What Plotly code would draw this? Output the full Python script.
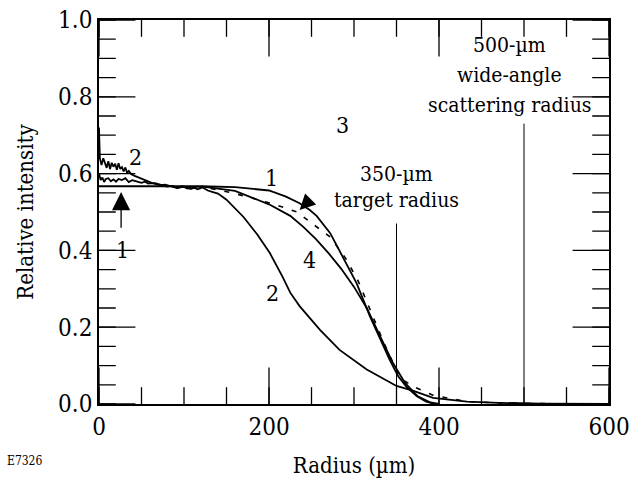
import plotly.graph_objects as go

# ---- data ----
r_curve1 = [0, 60, 120, 160, 200, 220, 236, 248, 256, 272, 287, 303, 319, 331, 342, 352, 362, 374, 385, 395]
i_curve1 = [0.567, 0.567, 0.567, 0.565, 0.556, 0.540, 0.523, 0.505, 0.490, 0.445, 0.383, 0.315, 0.227, 0.167,
            0.115, 0.072, 0.044, 0.020, 0.006, 0.0]

r_curve4 = [120, 160, 200, 225, 240, 255, 270, 285, 300, 315, 330, 345, 360, 375, 390, 400]
i_curve4 = [0.567, 0.555, 0.520, 0.490, 0.462, 0.430, 0.393, 0.352, 0.305, 0.250, 0.180, 0.110, 0.055,
            0.020, 0.004, 0.0]

r_curve2 = [0, 1, 3, 5, 7, 9, 11, 13, 15, 17, 19, 21, 23, 25, 27, 29, 31, 33, 35, 38, 42, 46, 50, 54, 58, 62,
            66, 70, 74, 80, 86, 92, 98, 104, 110, 116, 122, 128, 134, 140, 150, 160, 170, 186, 201, 216, 225,
            236, 260, 283, 315, 350, 370, 393, 433, 470, 520, 600]
i_curve2 = [0.72, 0.64, 0.622, 0.640, 0.628, 0.615, 0.632, 0.612, 0.628, 0.618, 0.626, 0.610, 0.627, 0.612,
            0.617, 0.606, 0.616, 0.602, 0.607, 0.598, 0.594, 0.590, 0.587, 0.583, 0.580, 0.576, 0.575, 0.572,
            0.570, 0.566, 0.568, 0.563, 0.567, 0.561, 0.565, 0.559, 0.564, 0.556, 0.552, 0.548, 0.532, 0.510,
            0.487, 0.442, 0.393, 0.331, 0.290, 0.255, 0.193, 0.141, 0.090, 0.047, 0.034, 0.016, 0.006, 0.003,
            0.001, 0.0]

r_curve1_data = [0, 2, 4, 6, 8, 11, 14, 17, 20, 23, 27, 31, 35, 39, 42, 46, 50, 54, 58, 62, 66, 72, 78, 85,
                 92, 100, 108, 115]
i_curve1_data = [0.600, 0.583, 0.590, 0.578, 0.586, 0.588, 0.580, 0.585, 0.579, 0.586, 0.583, 0.588, 0.578,
                 0.583, 0.581, 0.578, 0.576, 0.579, 0.574, 0.575, 0.573, 0.570, 0.571, 0.567, 0.562, 0.566,
                 0.560, 0.566]

r_dashed = [115, 130, 158, 181, 209, 233, 252, 272, 290, 305, 320, 335, 354, 370, 393, 433, 470, 520, 600]
i_dashed = [0.566, 0.562, 0.549, 0.536, 0.518, 0.500, 0.468, 0.435, 0.380, 0.320, 0.240, 0.160, 0.068, 0.045,
            0.023, 0.006, 0.003, 0.001, 0.0]

target_r = [350, 350]
target_i = [0.0, 0.47]
wide_r = [500, 500]
wide_i = [0.0, 0.73]

x_range = [0, 600]
y_range = [0.0, 1.0]
x_ticks = [0, 200, 400, 600]
y_ticks = [0.0, 0.2, 0.4, 0.6, 0.8, 1.0]
x_minor = list(range(0, 601, 50))
y_minor = [k / 20 for k in range(0, 21)]

FONT = "DejaVu Serif Condensed"

fig = go.Figure()
line = dict(color="black", width=1.8)
fig.add_trace(go.Scatter(x=r_curve2, y=i_curve2, mode="lines", line=line))
fig.add_trace(go.Scatter(x=r_curve1_data, y=i_curve1_data, mode="lines", line=line))
fig.add_trace(go.Scatter(x=r_curve1, y=i_curve1, mode="lines", line=line))
fig.add_trace(go.Scatter(x=r_curve4, y=i_curve4, mode="lines", line=line))
fig.add_trace(go.Scatter(x=r_dashed, y=i_dashed, mode="lines",
                         line=dict(color="black", width=1.6, dash="5px,9px")))
fig.add_trace(go.Scatter(x=target_r, y=target_i, mode="lines", line=dict(color="black", width=1)))
fig.add_trace(go.Scatter(x=wide_r, y=wide_i, mode="lines", line=dict(color="black", width=1)))


# tick marks drawn as clipped line markers on all four sides (inside ticks)
def tick_marks(xs, ys, symbol, length):
    fig.add_trace(go.Scatter(x=xs, y=ys, mode="markers", cliponaxis=True, hoverinfo="skip",
                             marker=dict(symbol=symbol, size=4 * length, color="black",
                                         line=dict(color="black", width=1.3))))


for yv in y_range:
    tick_marks(x_minor, [yv] * len(x_minor), "line-ns", 6)
    tick_marks(x_ticks, [yv] * len(x_ticks), "line-ns", 13)
for xv in x_range:
    tick_marks([xv] * len(y_minor), y_minor, "line-ew", 6)
    tick_marks([xv] * len(y_ticks), y_ticks, "line-ew", 13)


def label(x, y, text, size=23):
    fig.add_annotation(x=x, y=y, text=text, showarrow=False, xref="x", yref="y",
                       font=dict(family=FONT, size=size, color="black"))


label(43, 0.643, "2")
label(203, 0.589, "1")
label(287, 0.727, "3")
label(248, 0.375, "4")
label(204, 0.289, "2")
label(28, 0.40, "1")
label(350, 0.60, "350-µm", 21)
label(350, 0.53, "target radius", 21)
label(483, 0.935, "500-µm", 21)
label(483, 0.857, "wide-angle", 21)
label(483, 0.779, "scattering radius", 21)

fig.add_annotation(x=26, y=0.552, ax=26, ay=0.455, axref="x", ayref="y", xref="x", yref="y",
                   showarrow=True, arrowhead=2, arrowsize=2.8, arrowwidth=1.3, arrowcolor="black", text="")
fig.add_annotation(x=236, y=0.505, ax=12, ay=-12, xref="x", yref="y",
                   showarrow=True, arrowhead=2, arrowsize=2.4, arrowwidth=1.3, arrowcolor="black", text="")

fig.add_annotation(x=0, y=0, xref="paper", yref="paper", text="E7326", showarrow=False,
                   xanchor="left", yanchor="bottom", xshift=-94, yshift=-66,
                   font=dict(family=FONT, size=12, color="black"))

axis_common = dict(showline=True, linecolor="black", linewidth=1.5, mirror=True,
                   ticks="", showgrid=False, zeroline=False, automargin=False,
                   tickfont=dict(family=FONT, size=24, color="black"),
                   title_font=dict(family=FONT, size=22, color="black"))

fig.update_xaxes(range=x_range, tickmode="array", tickvals=x_ticks, ticktext=[str(v) for v in x_ticks],
                 title_text="Radius (µm)", title_standoff=18, **axis_common)
fig.update_yaxes(range=y_range, tickmode="array", tickvals=y_ticks, ticktext=[f"{v:.1f}" for v in y_ticks],
                 title_text="Relative intensity", title_standoff=18, **axis_common)

fig.update_layout(template="none", width=631, height=487, margin=dict(l=99, r=22, t=20, b=83),
                  paper_bgcolor="white", plot_bgcolor="white", showlegend=False,
                  font=dict(family=FONT, color="black"))

fig.write_html("out.html", config={"displayModeBar": False},
               post_script="document.body.style.margin='0';")
